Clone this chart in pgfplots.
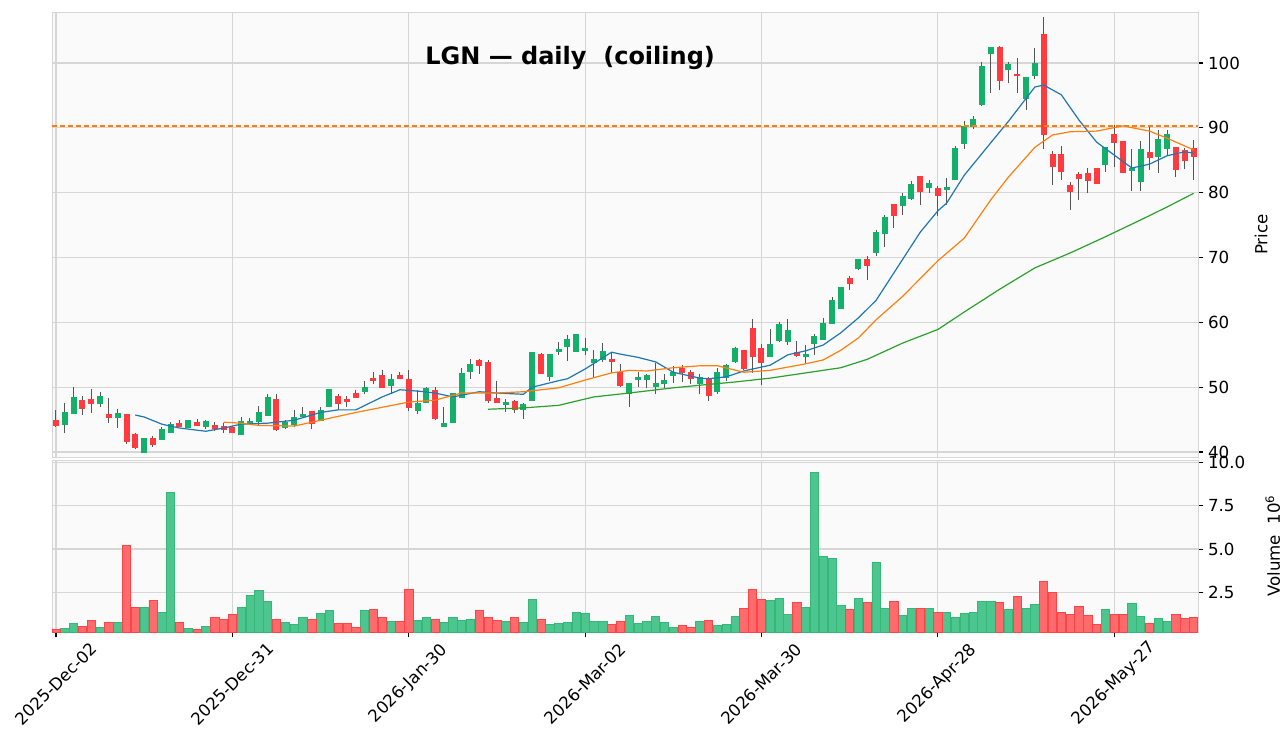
\documentclass[border=0pt]{standalone}
\usepackage{pgfplots}
\pgfplotsset{compat=1.18}
\usepackage{pgfplotstable}
\usepackage{fontspec}
\setmainfont{DejaVu Sans}
\definecolor{upc}{HTML}{13B06A}
\definecolor{dnc}{HTML}{FF3B3F}
\definecolor{vup}{HTML}{4CC68E}
\definecolor{vupe}{HTML}{34B878}
\definecolor{vdn}{HTML}{FF6B6D}
\definecolor{vdne}{HTML}{FF4448}
\definecolor{wick}{HTML}{555555}
\definecolor{mab}{HTML}{1F77B4}
\definecolor{mao}{HTML}{FF7F0E}
\definecolor{mag}{HTML}{2CA02C}
\definecolor{bg}{HTML}{FAFAFA}
\definecolor{grd}{HTML}{D6D6D6}
\pgfplotstableread{
i O H L C V
0 44.8 46.5 43.8 44.1 0.36
1 44.3 47.5 42.9 46.05 0.42
2 46.05 50.1 45.8 48.3 0.71
3 47.9 48.6 45.7 46.7 0.54
4 48.0 49.7 46.05 47.45 0.88
5 47.6 49.3 47.0 48.5 0.48
6 45.7 48.3 44.5 45.3 0.77
7 45.3 46.6 43.7 45.85 0.77
8 45.7 45.7 41.2 41.7 5.21
9 42.6 43.0 40.4 40.8 1.65
10 40.0 42.0 39.8 42.0 1.65
11 42.0 42.4 40.8 41.25 2.04
12 41.9 43.9 41.9 43.5 1.35
13 43.1 44.7 43.0 44.15 8.27
14 44.4 45.0 43.8 44.05 0.77
15 43.75 45.0 43.7 44.8 0.42
16 44.5 45.1 44.0 44.2 0.36
17 44.05 45.0 43.6 44.6 0.54
18 44.1 44.6 43.3 43.7 1.06
19 43.95 44.4 42.9 43.45 0.94
20 43.7 44.0 42.9 43.0 1.23
21 42.8 45.4 42.8 44.7 1.65
22 44.5 45.3 44.2 44.6 2.33
23 44.8 47.1 44.0 46.05 2.62
24 45.75 48.9 45.7 48.3 1.98
25 48.0 48.9 43.3 43.45 0.94
26 43.9 45.0 43.5 44.5 0.77
27 44.3 46.5 43.8 45.3 0.67
28 45.45 46.9 45.3 45.7 1.06
29 46.2 46.2 43.6 44.5 0.94
30 44.95 46.9 44.9 46.35 1.29
31 47.0 49.6 46.9 49.6 1.46
32 48.45 49.0 46.5 47.45 0.71
33 48.1 48.7 47.0 47.9 0.71
34 48.95 49.6 48.3 48.5 0.48
35 49.45 50.9 49.0 49.9 1.46
36 51.25 52.3 50.5 51.1 1.52
37 51.7 52.6 49.9 49.95 1.06
38 50.3 52.1 48.9 51.2 0.83
39 51.7 52.3 51.2 51.45 0.83
40 51.1 52.6 46.4 46.85 2.67
41 46.4 49.5 45.9 47.5 0.88
42 47.75 50.1 47.7 49.7 1.06
43 49.45 50.1 44.9 45.15 0.94
44 44.05 46.9 43.9 44.4 0.77
45 44.65 49.0 44.6 48.95 1.06
46 48.4 52.9 48.4 52.0 0.88
47 52.4 54.3 51.3 53.4 0.94
48 54.0 54.4 52.0 53.4 1.46
49 53.8 54.2 47.5 48.0 1.06
50 48.2 50.9 47.5 47.75 0.88
51 47.3 48.2 46.1 47.55 0.83
52 47.75 48.0 46.0 46.6 1.06
53 46.6 47.6 45.1 47.25 0.77
54 48.0 55.4 48.0 55.3 2.10
55 55.05 55.3 52.0 52.1 0.94
56 51.75 55.0 50.9 54.95 0.65
57 55.6 56.9 54.9 55.8 0.71
58 56.25 58.0 54.1 57.3 0.77
59 55.6 58.05 55.6 58.05 1.35
60 55.7 57.6 55.0 56.0 1.29
61 53.8 55.7 51.5 54.2 0.83
62 54.35 56.8 53.9 55.4 0.83
63 54.2 55.5 52.2 53.95 0.65
64 52.25 53.5 50.0 50.35 0.83
65 49.05 50.6 46.9 50.5 1.17
66 51.2 52.3 50.0 51.45 0.71
67 51.3 52.1 49.9 51.7 0.83
68 50.1 53.8 49.0 50.5 1.11
69 50.55 52.1 49.9 50.95 0.77
70 51.85 53.3 50.6 52.15 0.48
71 52.85 53.4 50.8 52.35 0.59
72 52.15 52.6 50.5 51.45 0.48
73 50.55 52.0 49.0 51.5 0.83
74 51.1 51.5 47.9 48.7 0.88
75 49.45 52.9 49.0 52.15 0.59
76 51.5 53.6 51.0 53.25 0.65
77 54.05 56.2 53.8 55.9 1.11
78 55.6 55.6 52.6 52.9 1.58
79 58.95 60.5 52.15 54.7 2.67
80 55.9 56.6 50.35 53.8 2.10
81 54.85 59.0 54.7 56.5 2.04
82 57.3 60.0 57.0 59.6 2.15
83 57.1 60.5 56.5 58.65 1.23
84 55.3 57.1 54.7 54.95 1.92
85 54.7 56.5 53.8 55.0 1.65
86 56.75 58.2 54.9 57.8 9.43
87 57.4 60.7 57.3 59.75 4.58
88 59.85 63.9 59.8 63.3 4.46
89 62.25 65.4 62.2 65.4 1.75
90 66.7 67.1 65.0 66.0 1.52
91 68.4 69.8 68.0 69.6 2.15
92 69.6 70.2 66.5 68.75 1.92
93 70.75 74.3 70.2 73.8 4.23
94 73.7 76.5 71.6 76.15 1.58
95 78.1 78.3 74.6 76.45 1.98
96 78.1 79.9 76.5 79.4 1.17
97 79.2 81.8 78.8 81.2 1.58
98 82.4 82.4 78.1 80.3 1.58
99 80.8 82.0 80.0 81.4 1.58
100 80.6 81.0 76.4 79.65 1.35
101 80.6 82.3 78.1 80.75 1.35
102 82.1 87.2 82.0 86.8 1.06
103 87.7 91.1 86.7 90.2 1.29
104 90.3 91.8 89.8 91.3 1.35
105 93.7 100.2 93.3 99.35 1.98
106 101.45 102.3 95.3 102.3 1.98
107 102.3 102.6 95.9 97.3 1.92
108 99.0 100.2 96.9 99.8 1.52
109 98.25 100.8 95.3 98.05 2.27
110 94.55 97.7 92.8 97.7 1.58
111 98.05 102.3 97.6 99.95 1.81
112 104.3 107.15 86.7 89.0 3.14
113 85.8 86.5 81.2 84.15 2.50
114 85.9 87.2 81.9 83.25 1.35
115 81.0 81.7 77.4 80.3 1.23
116 82.7 83.2 78.9 82.3 1.71
117 82.9 83.8 80.0 81.85 1.17
118 83.65 83.65 81.3 81.5 0.65
119 84.4 87.1 83.2 86.95 1.52
120 88.9 90.4 84.0 87.85 1.23
121 87.8 87.8 83.0 83.15 1.23
122 83.4 86.7 80.3 83.75 1.86
123 81.7 88.0 80.3 86.6 1.11
124 86.15 90.2 83.5 85.4 0.71
125 85.55 89.6 83.0 88.1 1.00
126 86.85 89.6 85.7 88.9 0.83
127 86.85 86.9 82.4 83.6 1.23
128 86.5 86.9 83.7 84.95 1.00
129 86.7 88.1 82.0 85.55 1.06
}\ohlc
\pgfplotstableread{
i m
9 45.7
10 45.4
12 44.3
14 43.7
17 43.2
19 43.7
21 44.3
24 44.45
27 44.9
30 46.1
32 46.5
34 46.5
37 48.5
39 49.6
41 49.4
43 49.1
45 48.5
48 49.3
50 49.1
53 48.9
54 50.0
57 51.0
58 51.3
60 52.8
63 55.4
64 55.1
66 54.6
68 53.9
70 52.3
73 51.4
74 51.3
76 51.6
78 52.5
81 53.4
83 55.0
85 55.6
87 56.5
89 58.4
91 60.7
93 63.4
95 67.6
98 73.9
100 77.2
101 78.4
103 82.7
106 87.7
108 91.0
111 96.3
112 96.6
114 95.1
116 91.2
118 87.8
120 85.8
122 83.8
124 84.4
126 85.7
128 86.3
129 86.1
}\maten
\pgfplotstableread{
i m
19 44.6
21 44.45
23 44.1
27 44.0
30 44.9
34 46.1
37 46.9
40 47.7
43 48.0
46 49.1
50 49.1
53 49.3
57 49.9
60 51.1
63 52.2
65 52.6
67 52.5
70 53.0
73 53.3
75 53.3
78 52.3
81 52.6
85 53.6
87 54.2
89 55.7
91 57.6
93 60.4
96 64.0
100 69.5
103 73.0
106 78.9
108 82.4
111 87.0
113 88.9
115 89.4
118 89.5
121 90.3
124 89.5
126 88.4
129 86.6
}\matwenty
\pgfplotstableread{
i m
49 46.6
53 46.8
57 47.2
61 48.5
65 49.1
70 49.9
73 50.3
77 50.8
81 51.4
85 52.2
89 53.0
92 54.3
96 56.8
100 58.9
103 61.6
107 65.1
111 68.4
115 70.7
119 73.2
123 75.8
126 77.8
129 79.9
}\mafifty
\pgfplotsset{
  cstyle/.style={
    scale only axis, width=859.5pt,
    xmin=-0.45, xmax=129.5,
    axis background/.style={fill=bg},
    axis line style={draw=grd},
    grid=major, grid style={draw=grd, line width=0.9pt},
    xtick={0,20,40,60,80,100,120},
    yticklabel pos=right, ytick pos=right,
    tick style={black, line width=0.8pt},
    tick align=outside, major tick length=4pt,
    ticklabel style={font=\fontsize{12.5}{14}\selectfont},
    /pgf/number format/assume math mode=true,
    label style={font=\fontsize{12.5}{14}\selectfont},
  }
}
\begin{document}
\begin{tikzpicture}
\begin{axis}[cstyle, name=price, at={(0,0)}, anchor=south west,
  height=333.75pt, ymin=39.23, ymax=107.87,
  ytick={40,50,60,70,80,90,100},
  xticklabels={}, xtick style={draw=none},
  ylabel={Price}, ylabel style={at={(rel axis cs:1.0454,0.5)}, anchor=north},
]
\addplot[wick, line width=0.75pt, draw=none, forget plot,
  error bars/.cd, y dir=both, y explicit, error mark=none,
  error bar style={wick, line width=0.75pt}]
  table[x=i, y expr={(\thisrow{H}+\thisrow{L})/2}, y error expr={(\thisrow{H}-\thisrow{L})/2}] {\ohlc};
\addplot[draw=none, forget plot, restrict expr to domain={\thisrow{C}-\thisrow{O}}{0:1000},
  error bars/.cd, y dir=both, y explicit, error mark=none,
  error bar style={upc, line width=4.5pt}]
  table[x=i, y expr={(\thisrow{O}+\thisrow{C})/2}, y error expr={abs(\thisrow{C}-\thisrow{O})/2+0.12}] {\ohlc};
\addplot[draw=none, forget plot, restrict expr to domain={\thisrow{C}-\thisrow{O}}{-1000:-0.0001},
  error bars/.cd, y dir=both, y explicit, error mark=none,
  error bar style={dnc, line width=4.5pt}]
  table[x=i, y expr={(\thisrow{O}+\thisrow{C})/2}, y error expr={abs(\thisrow{C}-\thisrow{O})/2+0.12}] {\ohlc};
\addplot[mab, line width=0.9pt, mark=none] table[x=i,y=m] {\maten};
\addplot[mao, line width=0.9pt, mark=none] table[x=i,y=m] {\matwenty};
\addplot[mag, line width=0.9pt, mark=none] table[x=i,y=m] {\mafifty};
\addplot[mao, line width=1.4pt, dashed, dash pattern=on 4pt off 2pt, mark=none] coordinates {(-0.45,90.3) (129.5,90.3)};
\node[font=\bfseries\fontsize{18}{20}\selectfont] at (axis cs:58.3,100.8) {LGN — daily\ \ (coiling)};
\end{axis}
\begin{axis}[cstyle, at={(0,-2.25pt)}, anchor=north west,
  height=129pt, ymin=0.21, ymax=10.14,
  ytick={2.5,5,7.5,10}, xtick pos=bottom,
  yticklabel style={/pgf/number format/.cd, fixed, fixed zerofill, precision=1},
  xticklabels={2025-Dec-02,2025-Dec-31,2026-Jan-30,2026-Mar-02,2026-Mar-30,2026-Apr-28,2026-May-27},
  xticklabel style={anchor=center, yshift=-35pt, rotate=45},
  ylabel={Volume\ \ 10\textsuperscript{6}}, ylabel style={at={(rel axis cs:1.0547,0.5)}, anchor=north},
]
\addplot[ybar, bar width=6.2pt, bar shift=0pt, fill=vup, draw=vupe, line width=0.5pt,
  restrict expr to domain={\thisrow{C}-\thisrow{O}}{0:1000}] table[x=i, y=V] {\ohlc};
\addplot[ybar, bar width=6.2pt, bar shift=0pt, fill=vdn, draw=vdne, line width=0.5pt,
  restrict expr to domain={\thisrow{C}-\thisrow{O}}{-1000:-0.0001}] table[x=i, y=V] {\ohlc};
\end{axis}
\pgfresetboundingbox
\path[use as bounding box] (-39pt,342.75pt) rectangle (924.75pt,-217.5pt);
\end{tikzpicture}
\end{document}
